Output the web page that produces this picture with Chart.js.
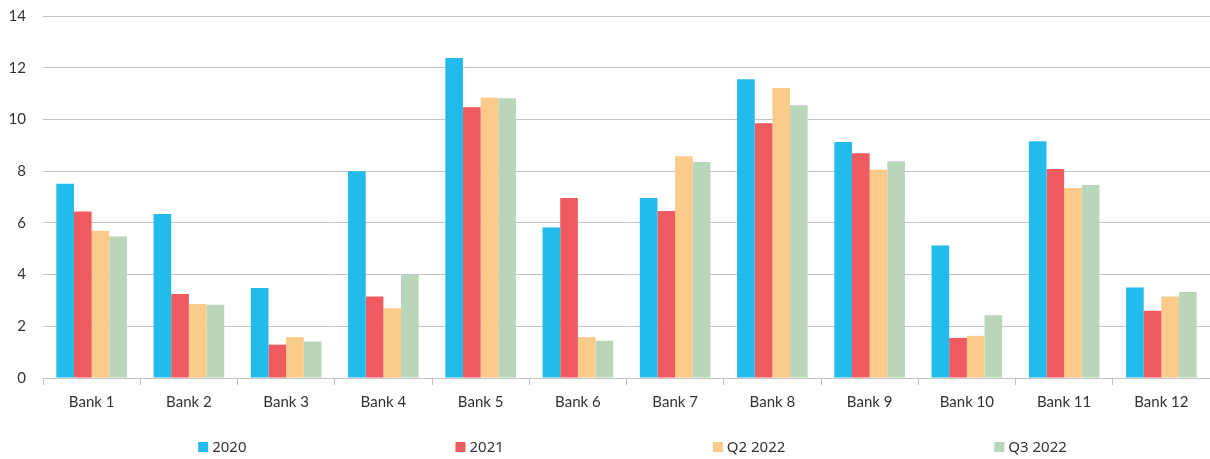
<!DOCTYPE html>
<html>
<head>
<meta charset="utf-8">
<script src="https://cdn.jsdelivr.net/npm/chart.js@4"></script>
<style>
  html, body { margin: 0; padding: 0; background: #fff; }
  #wrap { width: 1210px; height: 459px; }
</style>
</head>
<body>
<div id="wrap"><canvas id="chart" width="1210" height="459"></canvas></div>
<script>
  const banks = ['Bank 1', 'Bank 2', 'Bank 3', 'Bank 4', 'Bank 5', 'Bank 6', 'Bank 7', 'Bank 8', 'Bank 9', 'Bank 10', 'Bank 11', 'Bank 12'];
  const v2020 = [7.51, 6.34, 3.48, 8.0, 12.38, 5.82, 6.96, 11.55, 9.13, 5.12, 9.16, 3.5];
  const v2021 = [6.44, 3.25, 1.29, 3.15, 10.47, 6.96, 6.46, 9.85, 8.69, 1.55, 8.08, 2.6];
  const vQ2 = [5.69, 2.86, 1.58, 2.7, 10.84, 1.58, 8.58, 11.22, 8.05, 1.63, 7.35, 3.15];
  const vQ3 = [5.47, 2.83, 1.41, 3.98, 10.82, 1.44, 8.35, 10.55, 8.38, 2.43, 7.46, 3.33];
  const seriesNames = ['2020', '2021', 'Q2 2022', 'Q3 2022'];
  const colors = ['#22bbec', '#ef5b5e', '#fccb89', '#b9d5ba'];

  const AXIS_FONT = { family: 'Lato', size: 15 };
  const TEXT = '#333333';
  const GRID = '#c3c3c3';

  // legend spread wide under the plot, drawn by hand
  const wideLegend = {
    id: 'wideLegend',
    afterDraw(chart) {
      const { ctx, chartArea } = chart;
      const box = 10, gap = 4, spacing = 209;
      ctx.save();
      ctx.font = '15px "Noto Sans"';
      ctx.textBaseline = 'middle';
      const widths = seriesNames.map((n) => box + gap + ctx.measureText(n).width);
      const total = widths.reduce((a, b) => a + b, 0) + spacing * (widths.length - 1);
      let x = (chartArea.left + chartArea.right) / 2 - total / 2 + 6;
      const y = 447;
      seriesNames.forEach((name, i) => {
        ctx.fillStyle = colors[i];
        ctx.fillRect(x, y - box / 2, box, box);
        ctx.fillStyle = TEXT;
        ctx.fillText(name, x + box + gap, y + 1);
        x += widths[i] + spacing;
      });
      ctx.restore();
    },
  };

  new Chart(document.getElementById('chart'), {
    type: 'bar',
    data: {
      labels: banks,
      datasets: [v2020, v2021, vQ2, vQ3].map((values, i) => ({
        label: seriesNames[i],
        data: values,
        backgroundColor: colors[i],
        borderWidth: 0,
        categoryPercentage: 0.726,
        barPercentage: 1.0,
      })),
    },
    options: {
      responsive: false,
      animation: false,
      devicePixelRatio: 1,
      layout: { padding: { top: 16, right: 0, bottom: 40, left: 0 } },
      plugins: {
        legend: { display: false },
        tooltip: { enabled: false },
      },
      scales: {
        x: {
          grid: { display: true, drawOnChartArea: false, offset: true, tickLength: 7, color: GRID },
          border: { display: true, color: GRID, width: 1 },
          ticks: { color: TEXT, font: AXIS_FONT, padding: 8, maxRotation: 0, autoSkip: false },
        },
        y: {
          min: 0,
          max: 14,
          afterFit: (scale) => {
            scale.width = 43;
            scale.paddingTop = 0;
            scale.paddingBottom = 0;
          },
          grid: { color: GRID, drawTicks: false, lineWidth: 1 },
          border: { display: false },
          ticks: { stepSize: 2, color: TEXT, font: AXIS_FONT, padding: 17 },
        },
      },
    },
    plugins: [wideLegend],
  });
</script>
</body>
</html>
